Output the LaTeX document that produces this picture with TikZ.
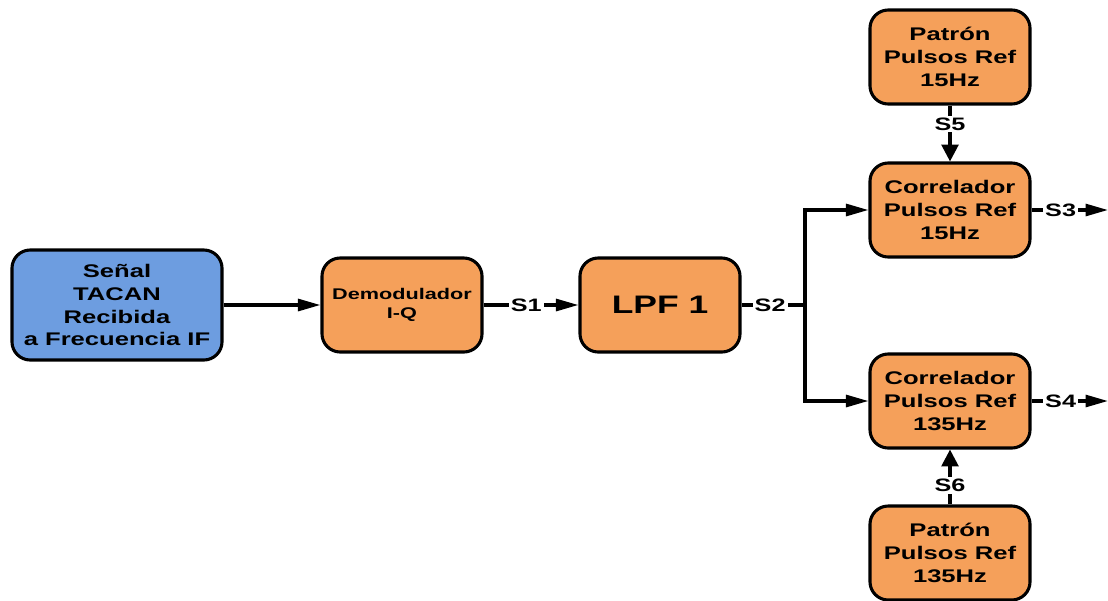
\documentclass[tikz,border=0pt]{standalone}
\usepackage{fontspec}
\setmainfont{Liberation Sans}[FakeStretch=1.4]
\usetikzlibrary{arrows.meta,positioning}
\definecolor{blkblue}{HTML}{6D9DE0}
\definecolor{blkorange}{HTML}{F5A05A}

\begin{document}
\begin{tikzpicture}[x=0.025cm,y=-0.025cm,line width=2.2pt,blk/.style={rectangle,rounded corners=13pt,draw,fill=blkorange,align=center,font=\fontsize{13}{16.3}\selectfont\bfseries,minimum width=4cm,minimum height=2.35cm,inner sep=2pt},lbl/.style={fill=white,inner sep=1.5pt,font=\fontsize{12.8}{15}\selectfont\bfseries},harr/.style={-{Triangle[length=16pt,width=8.5pt]}},varr/.style={-{Triangle[length=12pt,width=12pt]}}]
\useasboundingbox (0,0) rectangle (1108,600);
\node[blk,fill=blkblue,minimum width=5.25cm,minimum height=2.75cm] (sig) at (117,305) {Señal\\TACAN\\Recibida\\a Frecuencia IF};
\node[blk,font=\fontsize{11}{14}\selectfont\bfseries] (dem) at (402,305) {Demodulador\\I-Q};
\node[blk,font=\fontsize{18}{20}\selectfont\bfseries] (lpf) at (660,305) {LPF 1};
\node[blk] (p15) at (950,57) {Patrón\\Pulsos Ref\\15Hz};
\node[blk] (c15) at (950,210) {Correlador\\Pulsos Ref\\15Hz};
\node[blk] (c135) at (950,401) {Correlador\\Pulsos Ref\\135Hz};
\node[blk] (p135) at (950,553) {Patrón\\Pulsos Ref\\135Hz};
\coordinate (br) at (805,305);
\coordinate (o3) at (1108,210);
\coordinate (o4) at (1108,401);
% main chain
\draw[harr] (sig)--(dem);
\draw[harr] (dem)--node[lbl,pos=.45] {S1}(lpf);
\draw (lpf)--node[lbl,pos=.45] {S2}(br);
\draw[harr] (br)|-(c15);
\draw[harr] (br)|-(c135);
% reference patterns
\draw[varr] (p15)--node[lbl,pos=.33] {S5}(c15);
\draw[varr] (p135)--node[lbl,pos=.35] {S6}(c135);
% outputs
\draw[harr] (c15)--node[lbl,pos=.38] {S3}(o3);
\draw[harr] (c135)--node[lbl,pos=.38] {S4}(o4);
\end{tikzpicture}
\end{document}
